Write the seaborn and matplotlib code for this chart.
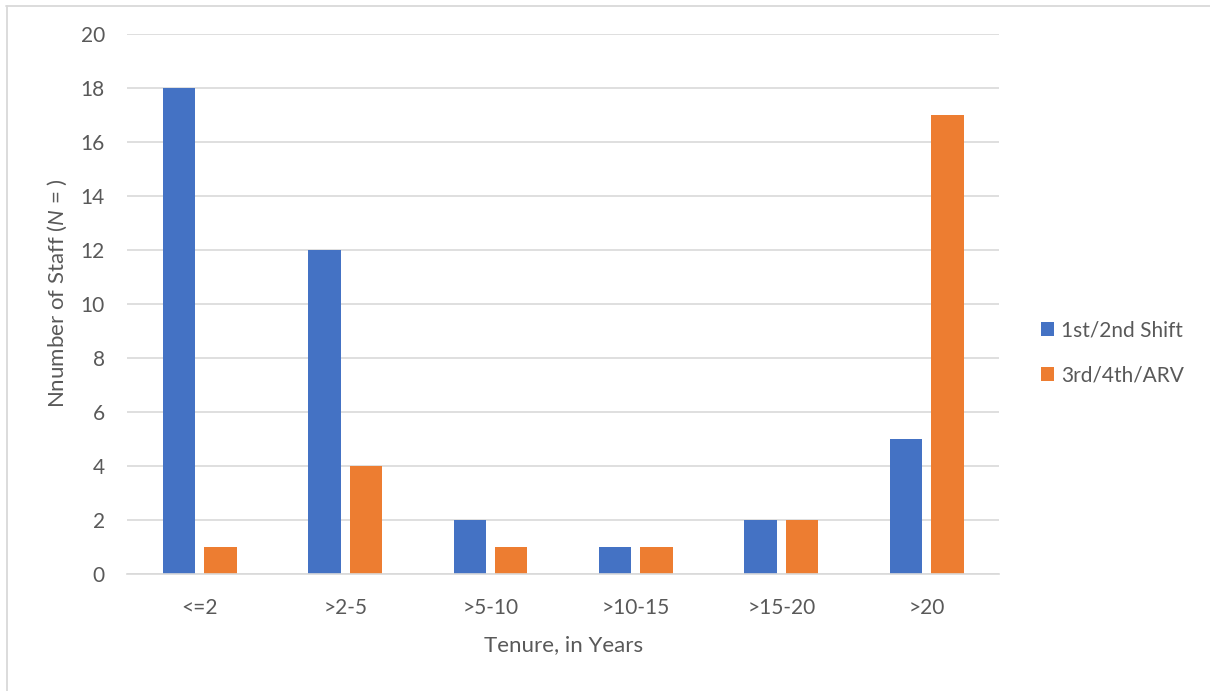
import matplotlib
matplotlib.use('Agg')
import matplotlib.pyplot as plt
import pandas as pd
import seaborn as sns
from matplotlib.lines import Line2D

# data
tenure = ["<=2", ">2-5", ">5-10", ">10-15", ">15-20", ">20"]
shift_12 = [18, 12, 2, 1, 2, 5]
shift_34 = [1, 4, 1, 1, 2, 17]
series_names = ["1st/2nd Shift", "3rd/4th/ARV"]
colors = ["#4472C4", "#ED7D31"]

df = pd.DataFrame({
    "tenure": tenure * 2,
    "count": shift_12 + shift_34,
    "series": [series_names[0]] * len(tenure) + [series_names[1]] * len(tenure),
})

sns.set_style("white")
plt.rcParams['font.family'] = ['Lato', 'DejaVu Sans']
plt.rcParams['mathtext.fontset'] = 'custom'
plt.rcParams['mathtext.it'] = 'Lato:italic'
plt.rcParams['mathtext.rm'] = 'Lato'

text_col = "#595959"
grid_col = "#D9D9D9"

fig = plt.figure(figsize=(12.1, 6.91), dpi=100)
ax = fig.add_axes([0.105, 0.169, 0.721, 0.782])

sns.barplot(data=df, x="tenure", y="count", hue="series", palette=colors,
            width=0.57, gap=0.217, saturation=1, linewidth=0, ax=ax, legend=True)

ax.set_ylim(0, 20)
ax.set_xlim(-0.5, 5.5)
ax.set_yticks(range(0, 21, 2))
ax.yaxis.grid(True, color=grid_col, linewidth=1.2)
ax.set_axisbelow(True)
for s in ["top", "right", "left"]:
    ax.spines[s].set_visible(False)
ax.spines["bottom"].set_color(grid_col)
ax.spines["bottom"].set_linewidth(1.2)
ax.tick_params(axis="both", length=0, labelsize=15, colors=text_col)
ax.tick_params(axis="x", pad=17)
ax.tick_params(axis="y", pad=16)

ax.set_xlabel("Tenure, in Years", fontsize=16, color=text_col)
ax.set_ylabel("Nnumber of Staff ($\\mathit{N}$ = )", fontsize=16, color=text_col)
ax.xaxis.set_label_coords(0.5, -0.112)
ax.yaxis.set_label_coords(-0.066, 0.52)

handles, labels = ax.get_legend_handles_labels()
ax.legend(handles, labels, loc="center left", bbox_to_anchor=(1.026, 0.41),
          frameon=False, fontsize=15, labelcolor=text_col,
          handlelength=0.65, handleheight=0.65, handletextpad=0.3,
          labelspacing=1.2)

# outer chart border (top and left edges visible)
fig.add_artist(Line2D([6 / 1210, 1], [1 - 5.5 / 691, 1 - 5.5 / 691],
                      color=grid_col, linewidth=1.3, transform=fig.transFigure))
fig.add_artist(Line2D([6.5 / 1210, 6.5 / 1210], [0, 1 - 5.5 / 691],
                      color=grid_col, linewidth=1.3, transform=fig.transFigure))

fig.savefig("out.png", dpi=100)
